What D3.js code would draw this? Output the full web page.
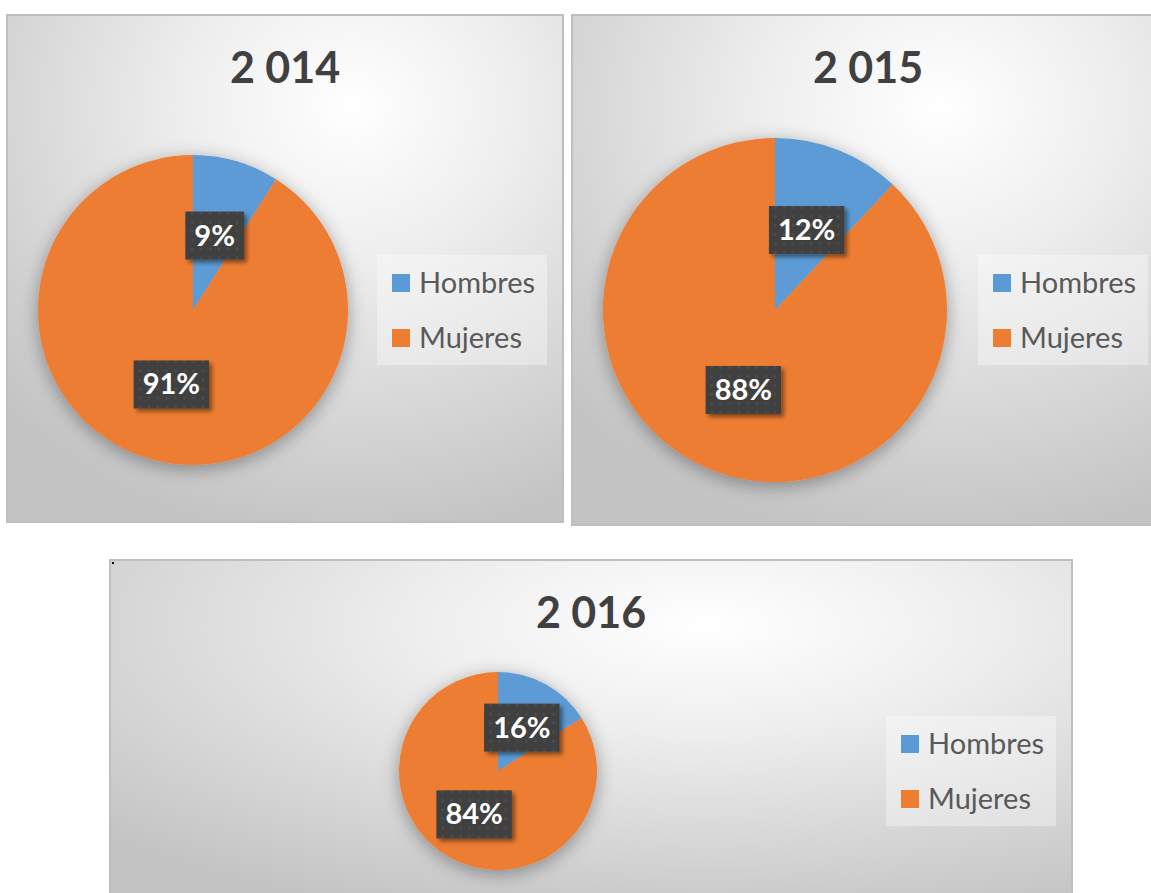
<!DOCTYPE html>
<html>
<head>
<meta charset="utf-8">
<script src="https://cdn.jsdelivr.net/npm/d3@7"></script>
<style>
  body { margin: 0; background: #fff; }
  svg { display: block; }
</style>
</head>
<body>
<svg id="chart" width="1151" height="893"></svg>
<script>
// data
var years = ["2 014", "2 015", "2 016"];
var categories = ["Hombres", "Mujeres"];
var hombres = [9, 12, 16];
var mujeres = [91, 88, 84];
var colors = ["#5b9bd5", "#ed7d31"];

// panel layout (x, y, w, h, pie center, radius)
var panels = [
  { x: 7, y: 15, w: 556, h: 507, cx: 186, cy: 295, r: 155 },
  { x: 572, y: 15, w: 592, h: 510, cx: 203, cy: 295, r: 172 },
  { x: 110, y: 560, w: 962, h: 360, cx: 388, cy: 211, r: 99 }
];

var svg = d3.select("#chart");
var defs = svg.append("defs");

var grad = defs.append("radialGradient").attr("id", "bg")
  .attr("cx", "62%").attr("cy", "18%").attr("r", "85%");
grad.append("stop").attr("offset", "0%").attr("stop-color", "#ffffff");
grad.append("stop").attr("offset", "35%").attr("stop-color", "#eeeeee");
grad.append("stop").attr("offset", "100%").attr("stop-color", "#c4c4c4");

var pieShadow = defs.append("filter").attr("id", "pieShadow")
  .attr("x", "-30%").attr("y", "-30%").attr("width", "160%").attr("height", "160%");
pieShadow.append("feDropShadow").attr("dx", 0).attr("dy", 4).attr("stdDeviation", 9)
  .attr("flood-color", "#000").attr("flood-opacity", 0.35);

var boxShadow = defs.append("filter").attr("id", "boxShadow")
  .attr("x", "-20%").attr("y", "-20%").attr("width", "150%").attr("height", "150%");
boxShadow.append("feDropShadow").attr("dx", 3).attr("dy", 3).attr("stdDeviation", 2)
  .attr("flood-color", "#000").attr("flood-opacity", 0.45);

var dots = defs.append("pattern").attr("id", "dots")
  .attr("width", 9).attr("height", 9).attr("patternUnits", "userSpaceOnUse");
dots.append("rect").attr("width", 9).attr("height", 9).attr("fill", "#404040");
dots.append("circle").attr("cx", 4.5).attr("cy", 4.5).attr("r", 1.3).attr("fill", "#4f4f4f");

var pie = d3.pie().sort(null).value(d => d.value);

panels.forEach(function(p, i) {
  var g = svg.append("g").attr("transform", "translate(" + p.x + "," + p.y + ")");

  g.append("rect")
    .attr("width", p.w).attr("height", p.h)
    .attr("fill", "url(#bg)")
    .attr("stroke", "#bfbfbf").attr("stroke-width", 2);

  // title
  g.append("text")
    .attr("x", p.w / 2).attr("y", 68)
    .attr("text-anchor", "middle")
    .style("font-family", "Lato, 'Open Sans', sans-serif")
    .style("font-weight", "bold")
    .style("font-size", "43px")
    .style("fill", "#404040")
    .text(years[i]);

  var vals = [
    { name: categories[0], value: hombres[i] },
    { name: categories[1], value: mujeres[i] }
  ];
  var arcs = pie(vals);
  var arc = d3.arc().innerRadius(0).outerRadius(p.r);

  var pg = g.append("g").attr("transform", "translate(" + p.cx + "," + p.cy + ")");
  pg.append("g").attr("filter", "url(#pieShadow)")
    .selectAll("path").data(arcs).join("path")
    .attr("d", arc)
    .attr("fill", (d, j) => colors[j]);

  // data labels
  var lab = pg.selectAll("g.lab").data(arcs).join("g").attr("class", "lab")
    .attr("transform", d => "translate(" + arc.centroid(d) + ")");
  lab.each(function(d) {
    var lg = d3.select(this);
    var rect = lg.append("rect").attr("fill", "url(#dots)").attr("filter", "url(#boxShadow)");
    var t = lg.append("text")
      .attr("text-anchor", "middle")
      .attr("y", 10)
      .style("font-family", "Lato, 'Open Sans', sans-serif")
      .style("font-weight", "bold")
      .style("font-size", "29px")
      .style("fill", "#fff")
      .text(d.data.value + "%");
    var tw = t.node().getComputedTextLength() + 18;
    rect.attr("x", -tw / 2).attr("y", -24).attr("width", tw).attr("height", 48);
  });

  // legend
  var lw = 170, lh = 110;
  var leg = g.append("g")
    .attr("transform", "translate(" + (p.w - 16 - lw) + "," + (p.cy - lh / 2) + ")");
  leg.append("rect").attr("width", lw).attr("height", lh)
    .attr("fill", "#ffffff").attr("fill-opacity", 0.35);
  categories.forEach(function(c, j) {
    var yc = 28 + j * 55;
    leg.append("rect").attr("x", 15).attr("y", yc - 9).attr("width", 18).attr("height", 18)
      .attr("fill", colors[j]);
    leg.append("text").attr("x", 42).attr("y", yc + 10)
      .style("font-family", "Lato, 'Open Sans', sans-serif")
      .style("font-size", "29px")
      .style("fill", "#595959")
      .text(c);
  });
});

// small marker in the corner of the last panel
svg.append("rect").attr("x", 112).attr("y", 562).attr("width", 2).attr("height", 2).attr("fill", "#000");
</script>
</body>
</html>
